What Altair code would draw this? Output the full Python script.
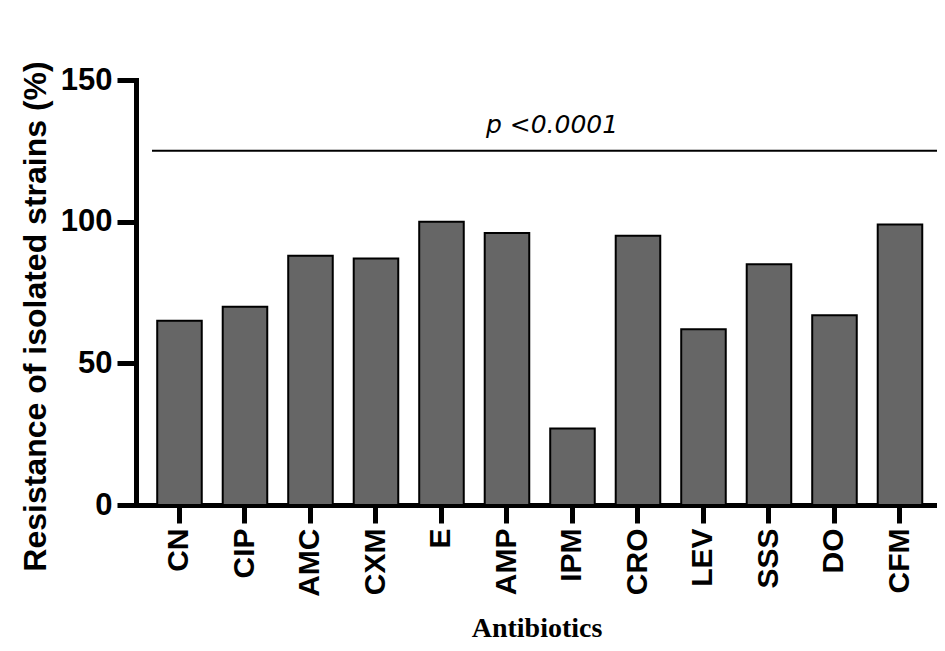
import altair as alt
import pandas as pd

antibiotics = ["CN", "CIP", "AMC", "CXM", "E", "AMP", "IPM", "CRO", "LEV", "SSS", "DO", "CFM"]
resistance = [65, 70, 88, 87, 100, 96, 27, 95, 62, 85, 67, 99]
y_ticks = [0, 50, 100, 150]
p_line_level = [125]
p_label = ["p <0.0001"]

df = pd.DataFrame({"antibiotic": antibiotics, "resistance": resistance})
ann = pd.DataFrame({"level": p_line_level, "label": p_label})

PLOT_W = 801
PLOT_H = 425

x_enc = alt.X(
    "antibiotic:N",
    sort=antibiotics,
    scale=alt.Scale(paddingInner=0.32, paddingOuter=0.2745, align=0.59),
    axis=alt.Axis(
        title="Antibiotics",
        titleFont="Liberation Serif",
        titleFontSize=28,
        titleFontWeight="bold",
        titleColor="black",
        titleBaseline="alphabetic",
        titleY=131,
        labelAngle=270,
        labelAlign="right",
        labelBaseline="middle",
        labelFont="Liberation Sans",
        labelFontSize=30,
        labelFontWeight="bold",
        labelColor="black",
        labelPadding=5,
        tickSize=18,
        tickWidth=5,
        tickColor="black",
        domainWidth=5,
        domainColor="black",
        domainCap="square",
    ),
)

y_enc = alt.Y(
    "resistance:Q",
    scale=alt.Scale(domain=[0, 150], nice=False, zero=True),
    axis=alt.Axis(
        values=y_ticks,
        title="Resistance of isolated strains (%)",
        titleFont="Liberation Sans",
        titleFontSize=32,
        titleFontWeight="bold",
        titleColor="black",
        titleAngle=270,
        titleAlign="center",
        titleBaseline="alphabetic",
        titleX=-91,
        titleY=236,
        labelFont="Liberation Sans",
        labelFontSize=31,
        labelFontWeight="bold",
        labelColor="black",
        labelPadding=5,
        labelFlush=False,
        labelOverlap=False,
        tickSize=19,
        tickWidth=5,
        tickColor="black",
        domainWidth=5,
        domainColor="black",
        domainCap="square",
        grid=False,
    ),
)

bars = alt.Chart(df).mark_bar(
    fill="#666666", stroke="black", strokeWidth=2
).encode(x=x_enc, y=y_enc)

rule = alt.Chart(ann).mark_rule(color="black", strokeWidth=2).encode(
    y=alt.Y("level:Q"),
    x=alt.value(16),
    x2=alt.value(PLOT_W),
)

ptext = alt.Chart(ann).mark_text(
    font="DejaVu Sans",
    fontSize=25,
    fontStyle="italic",
    align="center",
    baseline="alphabetic",
    dy=-18,
    color="black",
).encode(
    y=alt.Y("level:Q"),
    x=alt.value(416),
    text="label:N",
)

chart = (
    alt.layer(bars, rule, ptext)
    .properties(
        width=PLOT_W,
        height=PLOT_H,
        background="white",
        autosize=alt.AutoSizeParams(type="none"),
        padding={"left": 128, "top": 72, "right": 0, "bottom": 138},
    )
    .configure_view(strokeWidth=0, stroke="transparent")
)

chart.save("out.html", embed_options={"renderer": "svg", "actions": False})
